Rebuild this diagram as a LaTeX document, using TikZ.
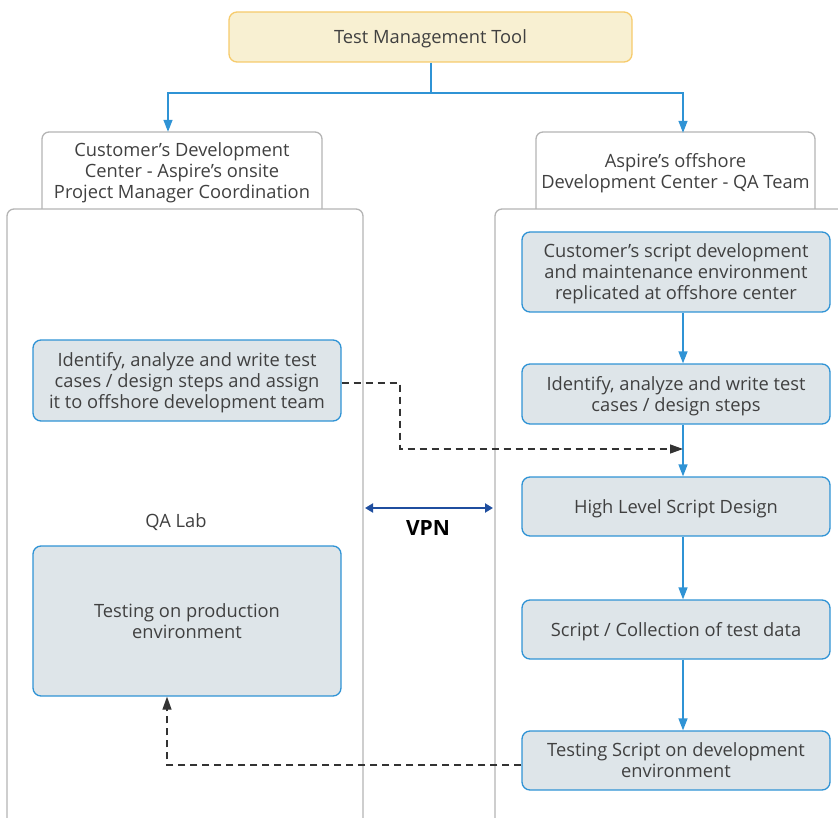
\documentclass[tikz,border=0pt]{standalone}
\usepackage{fontspec}
\setmainfont{Open Sans}
\usetikzlibrary{arrows.meta,calc}
\definecolor{txt}{HTML}{404040}
\definecolor{bblue}{HTML}{2F93D5}
\definecolor{bfill}{HTML}{DEE5E9}
\definecolor{gline}{HTML}{B4B4B4}
\definecolor{yfill}{HTML}{F8F0D2}
\definecolor{yline}{HTML}{F6CB6C}
\definecolor{vpn}{HTML}{1F4E9F}
\definecolor{dash}{HTML}{333333}
\tikzset{
  lbl/.style={font=\fontsize{18.3}{21}\selectfont, text=txt, align=center, text depth=-4pt},
  bluebox/.style={lbl, draw=bblue, fill=bfill, line width=1.3pt, rounded corners=8pt, minimum width=308pt, inner sep=0pt},
  tabbox/.style={lbl, inner sep=0pt},
  blueflow/.style={draw=bblue, line width=1.4pt, -{Triangle[length=12pt,width=9pt]}},
  bluepath/.style={draw=bblue, line width=1.4pt},
  dashflow/.style={draw=dash, line width=1.3pt, dash pattern=on 7pt off 5pt, -{Triangle[length=13pt,width=9pt]}},
  grayline/.style={draw=gline, line width=1.3pt, rounded corners=7pt},
}
\begin{document}
\begin{tikzpicture}[x=1pt,y=-1pt]
\useasboundingbox (0,0) rectangle (838,818);
\clip (0,0) rectangle (838,818);
% containers
\draw[grayline] (42,209) -- (42,132) -- (322,132) -- (322,209);
\draw[grayline] (536,209) -- (536,132) -- (815,132) -- (815,209);
\draw[grayline] (7,830) -- (7,209) -- (363,209) -- (363,830);
\draw[grayline] (495,830) -- (495,209) -- (850,209) -- (850,830);
% nodes
\node[lbl, draw=yline, fill=yfill, line width=1.3pt, rounded corners=8pt, minimum width=403pt, minimum height=50pt] (top) at (430.5,37) {Test Management Tool};
\node[tabbox, minimum width=280pt, minimum height=77pt] (tabL) at (182,170.5) {Customer’s Development\\Center - Aspire’s onsite\\Project Manager Coordination};
\node[tabbox, minimum width=279pt, minimum height=77pt] (tabR) at (675.5,171.5) {Aspire’s offshore\\Development Center - QA Team};
\node[bluebox, minimum height=81pt] (L1) at (187,380.5) {Identify, analyze and write test\\cases / design steps and assign\\it to offshore development team};
\node[lbl] (qa) at (176,521) {QA Lab};
\node[bluebox, minimum height=150pt] (L2) at (187,621) {Testing on production\\environment};
\node[bluebox, minimum height=80pt] (R1) at (676,272) {Customer’s script development\\and maintenance environment\\replicated at offshore center};
\node[bluebox, minimum height=60pt] (R2) at (676,394) {Identify, analyze and write test\\cases / design steps};
\node[bluebox, minimum height=59pt] (R3) at (676,506.5) {High Level Script Design};
\node[bluebox, minimum height=59pt] (R4) at (676,629.5) {Script / Collection of test data};
\node[bluebox, minimum height=59pt] (R5) at (676,760.5) {Testing Script on development\\environment};
\node[font=\fontsize{21}{24}\selectfont\bfseries, text=black] (vpnlbl) at (428,528) {VPN};
% coordinates
\coordinate (xr) at (683,0);
\coordinate (xl) at (168,0);
\coordinate (hub) at (431,93);
\coordinate (dl) at (167,0);
\coordinate (dx) at (400,0);
\coordinate (vl) at (365,508);
\coordinate (vr) at (493,508);
% blue tree
\draw[bluepath] (top.south -| hub) -- (hub);
\draw[blueflow] (hub) -| (tabL.north -| xl);
\draw[blueflow] (hub) -| (tabR.north -| xr);
% right flow
\draw[blueflow] (R1.south -| xr) -- (R2.north -| xr);
\draw[blueflow] (R2.south -| xr) -- (R3.north -| xr);
\draw[blueflow] (R3.south -| xr) -- (R4.north -| xr);
\draw[blueflow] (R4.south -| xr) -- (R5.north -| xr);
% dashed
\draw[dashflow] (L1.east |- 0,383) -| ($(dx)+(0,449)$) -- ($(xr)+(0,449)$);
\draw[dashflow] (R5.west |- 0,765) -| (L2.south -| dl);
% VPN
\draw[draw=vpn, line width=2.2pt, {Triangle[length=8pt,width=9pt]}-{Triangle[length=8pt,width=9pt]}] (vl) -- (vr);
\end{tikzpicture}
\end{document}
